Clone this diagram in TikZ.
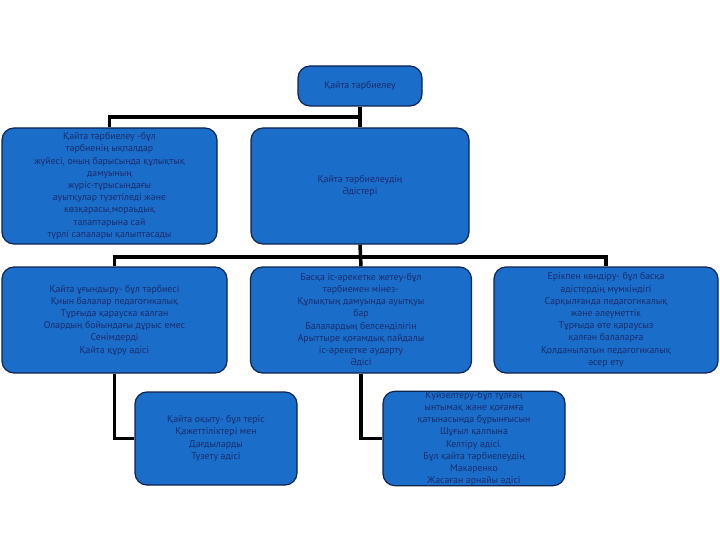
\documentclass[tikz,border=0pt]{standalone}
\usepackage{fontspec}
\setmainfont{PT Sans}
\definecolor{boxfill}{HTML}{1A6DC8}
\definecolor{boxline}{HTML}{0F2350}
\definecolor{boxtext}{HTML}{1B2C6E}
\begin{document}
\begin{tikzpicture}[x=1pt,y=-1pt,
  box/.style={draw=boxline, fill=boxfill, line width=1.2pt, rounded corners=12pt,
    text=boxtext, align=center, inner sep=0pt,
    font=\fontsize{9.8}{12.2}\selectfont},
  conn/.style={draw=black, line width=3.5pt}]
\useasboundingbox (0,0) rectangle (720,540);
\fill[white] (0,0) rectangle (720,540);
\coordinate (j1) at (360,117);
\coordinate (j2) at (361,257);
\node[box, minimum width=124pt, minimum height=40pt] (top) at (360,86) {Қайта тәрбиелеу};
\node[box, minimum width=215pt, minimum height=116pt] (L1) at (109.5,186) {Қайта тәрбиелеу -бұл\\тәрбиенің ықпалдар\\жүйесі, оның барысында құлықтық\\дамуының\\жүріс-тұрысындағы\\ауытқулар түзетіледі және\\көзқарасы,мораьдық\\талаптарына сай\\түрлі сапалары қалыптасады};
\node[box, minimum width=218pt, minimum height=116pt] (M1) at (360,186) {Қайта тәрбиелеудің\\Әдістері};
\node[box, minimum width=225pt, minimum height=106pt] (L2) at (114.5,320) {Қайта ұғындыру- бұл тәрбиесі\\Қиын балалар педагогикалық\\Тұрғыда қарауска калган\\Олардың бойындағы дұрыс емес\\Сенімдерді\\Қайта құру әдісі};
\node[box, minimum width=221pt, minimum height=106pt] (M2) at (361,320) {Басқа іс-әрекетке жетеу-бұл\\тәрбиемен мінез-\\Құлықтың дамуында ауытқуы\\бар\\Балалардың белсенділігін\\Арыттыре қоғамдық пайдалы\\іс-әрекетке аударту\\Әдісі};
\node[box, minimum width=224pt, minimum height=106pt] (R2) at (606,320) {Ерікпен көндіру- бұл басқа\\әдістердің мүмкіндігі\\Сарқылғанда педагогикалық\\және әлеуметтік\\Тұрғыда өте қараусыз\\қалған балаларға\\Қолданылатын педагогикалық\\әсер ету};
\node[box, minimum width=162pt, minimum height=93pt] (B1) at (216,438.5) {Қайта оқыту- бұл теріс\\Қажеттіліктері мен\\Дағдыларды\\Түзету әдісі};
\node[box, minimum width=182pt, minimum height=93pt] (B2) at (474,438.5) {Күйзелтеру-бұл тұлғаң\\ынтымақ және қоғамға\\қатынасында бұрынғысын\\Шұғыл қалпына\\Келтіру әдісі.\\Бұл қайта тәрбиелеудің\\Макаренко\\Жасаған арнайы әдісі};
\draw[conn] (top.south) -- (M1.north);
\draw[conn] (L1.north) |- (j1);
\draw[conn] (M1.south) -- (M2.north);
\draw[conn] (L2.north) |- (j2) -| (R2.north);
\draw[conn] (L2.south) |- (B1.west);
\draw[conn] (M2.south) |- (B2.west);
\end{tikzpicture}
\end{document}
